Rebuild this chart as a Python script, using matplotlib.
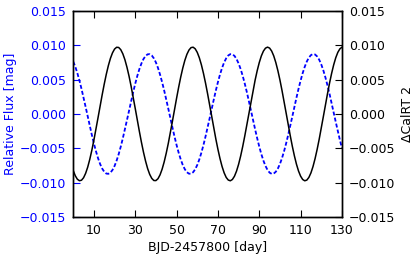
import numpy as np
import matplotlib
matplotlib.use("Agg")
import matplotlib.pyplot as plt

# values, one per day
days = list(range(0, 131))

# relative flux [mag] (blue dashed, left axis)
flux = [0.00761, 0.00686, 0.00593, 0.00485, 0.00366, 0.00237, 0.00103, -0.00034, -0.00171, -0.00303,
        -0.00427, -0.00541, -0.00641, -0.00726, -0.00792, -0.00839, -0.00865, -0.00869, -0.00852, -0.00813,
        -0.00755, -0.00677, -0.00583, -0.00474, -0.00353, -0.00224, -0.00089, 0.00048, 0.00184, 0.00315,
        0.00439, 0.00552, 0.00651, 0.00733, 0.00798, 0.00842, 0.00866, 0.00868, 0.00849, 0.00808,
        0.00748, 0.00669, 0.00572, 0.00462, 0.00341, 0.00211, 0.00076, -0.00062, -0.00197, -0.00328,
        -0.00451, -0.00562, -0.00659, -0.00741, -0.00803, -0.00846, -0.00867, -0.00867, -0.00846, -0.00803,
        -0.00741, -0.00660, -0.00562, -0.00451, -0.00328, -0.00198, -0.00062, 0.00075, 0.00210, 0.00341,
        0.00462, 0.00572, 0.00668, 0.00748, 0.00808, 0.00849, 0.00868, 0.00866, 0.00843, 0.00798,
        0.00733, 0.00651, 0.00552, 0.00439, 0.00316, 0.00184, 0.00048, -0.00089, -0.00224, -0.00353,
        -0.00474, -0.00583, -0.00677, -0.00754, -0.00813, -0.00852, -0.00869, -0.00865, -0.00839, -0.00792,
        -0.00726, -0.00641, -0.00541, -0.00427, -0.00303, -0.00171, -0.00035, 0.00102, 0.00237, 0.00366,
        0.00485, 0.00593, 0.00685, 0.00761, 0.00818, 0.00854, 0.00870, 0.00863, 0.00835, 0.00787,
        0.00718, 0.00632, 0.00530, 0.00415, 0.00290, 0.00157, 0.00021, -0.00116, -0.00250, -0.00378,
        -0.00497]

# delta CalRT 2 (black solid, right axis)
calrt = [-0.00821, -0.00897, -0.00947, -0.00969, -0.00962, -0.00926, -0.00862, -0.00773, -0.00660, -0.00528,
         -0.00380, -0.00220, -0.00055, 0.00113, 0.00277, 0.00433, 0.00576, 0.00702, 0.00807, 0.00887,
         0.00942, 0.00968, 0.00965, 0.00933, 0.00873, 0.00788, 0.00678, 0.00549, 0.00403, 0.00245,
         0.00080, -0.00088, -0.00253, -0.00411, -0.00556, -0.00684, -0.00793, -0.00877, -0.00935, -0.00966,
         -0.00967, -0.00940, -0.00884, -0.00802, -0.00696, -0.00569, -0.00426, -0.00269, -0.00105, 0.00063,
         0.00228, 0.00387, 0.00535, 0.00666, 0.00778, 0.00866, 0.00928, 0.00963, 0.00969, 0.00946,
         0.00894, 0.00816, 0.00714, 0.00590, 0.00449, 0.00294, 0.00130, -0.00037, -0.00204, -0.00364,
         -0.00513, -0.00647, -0.00762, -0.00854, -0.00921, -0.00959, -0.00970, -0.00951, -0.00904, -0.00830,
         -0.00731, -0.00610, -0.00471, -0.00318, -0.00155, 0.00012, 0.00179, 0.00340, 0.00492, 0.00628,
         0.00746, 0.00842, 0.00912, 0.00955, 0.00970, 0.00956, 0.00913, 0.00843, 0.00747, 0.00629,
         0.00493, 0.00341, 0.00180, 0.00013, -0.00154, -0.00317, -0.00470, -0.00609, -0.00730, -0.00829,
         -0.00903, -0.00951, -0.00970, -0.00960, -0.00921, -0.00855, -0.00763, -0.00648, -0.00514, -0.00365,
         -0.00205, -0.00038, 0.00129, 0.00293, 0.00448, 0.00589, 0.00713, 0.00816, 0.00894, 0.00945,
         0.00969]

xticks = [10, 30, 50, 70, 90, 110, 130]
yticks = [-0.015, -0.010, -0.005, 0.000, 0.005, 0.010, 0.015]

fs = 9

fig = plt.figure(figsize=(4.16, 2.59), dpi=100)
ax = fig.add_axes([0.176, 0.161, 0.646, 0.798])
ax2 = ax.twinx()

ax.plot(days, flux, color="blue", linestyle=(0, (2.2, 1.2)), linewidth=1.3)
ax2.plot(days, calrt, color="black", linestyle="-", linewidth=1.1)

ax.set_xlim(0, 130)
ax.set_ylim(-0.015, 0.015)
ax2.set_ylim(-0.015, 0.015)

ax.set_xticks(xticks)
ax.set_yticks(yticks)
ax2.set_yticks(yticks)
ax.set_yticklabels(["{:.3f}".format(v).replace("-", "\u2212") for v in yticks])
ax2.set_yticklabels(["{:.3f}".format(v).replace("-", "\u2212") for v in yticks])

ax.tick_params(axis="x", direction="in", length=5, top=True, labelsize=fs, pad=5)
ax.tick_params(axis="y", direction="in", length=5, colors="blue", labelsize=fs, pad=5)
ax2.tick_params(axis="y", direction="in", length=5, colors="black", labelsize=fs, pad=5)

for a in (ax, ax2):
    for s in a.spines.values():
        s.set_linewidth(1.0)

ax.set_xlabel("BJD-2457800 [day]", fontsize=fs, labelpad=3)
ax.set_ylabel("Relative Flux [mag]", fontsize=fs, color="blue", labelpad=2)
ax2.set_ylabel("\u0394CalRT 2", fontsize=fs, color="black", labelpad=4)

fig.savefig("out.png", dpi=100)
